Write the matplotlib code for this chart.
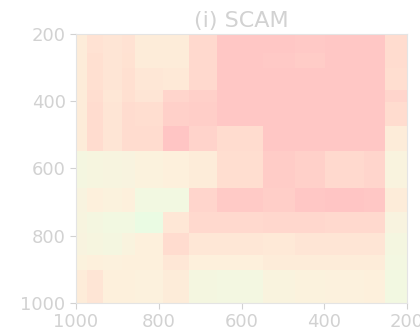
import numpy as np
import matplotlib
matplotlib.use("Agg")
import matplotlib.pyplot as plt
from matplotlib.colors import LinearSegmentedColormap

# cell boundaries of the score grid
x_edges = [1000, 973, 935, 890, 857, 789, 728, 660, 547, 470, 398, 305, 253, 200]
y_edges = [200, 257, 302, 367, 401, 474, 547, 659, 729, 793, 858, 902, 1000]

# score per cell, rows follow y_edges, columns follow x_edges
scores = np.array([
    [0.55, 0.65, 0.62, 0.65, 0.55, 0.55, 0.75, 0.95, 0.95, 0.93, 0.95, 0.95, 0.72],
    [0.55, 0.68, 0.62, 0.66, 0.55, 0.55, 0.75, 0.95, 0.93, 0.90, 0.95, 0.95, 0.72],
    [0.55, 0.68, 0.62, 0.68, 0.60, 0.58, 0.75, 0.95, 0.95, 0.95, 0.95, 0.95, 0.70],
    [0.55, 0.70, 0.60, 0.68, 0.62, 0.80, 0.85, 0.95, 0.95, 0.95, 0.95, 0.95, 0.80],
    [0.55, 0.72, 0.62, 0.72, 0.70, 0.85, 0.88, 0.95, 0.95, 0.95, 0.95, 0.95, 0.72],
    [0.55, 0.72, 0.62, 0.72, 0.72, 0.97, 0.82, 0.72, 0.95, 0.95, 0.95, 0.95, 0.55],
    [0.33, 0.36, 0.38, 0.40, 0.45, 0.50, 0.55, 0.70, 0.90, 0.85, 0.75, 0.80, 0.42],
    [0.40, 0.50, 0.45, 0.50, 0.28, 0.28, 0.80, 0.92, 0.88, 0.95, 0.97, 0.95, 0.55],
    [0.38, 0.33, 0.28, 0.28, 0.15, 0.60, 0.75, 0.75, 0.78, 0.78, 0.75, 0.75, 0.40],
    [0.40, 0.36, 0.33, 0.42, 0.50, 0.72, 0.60, 0.60, 0.58, 0.62, 0.62, 0.62, 0.33],
    [0.45, 0.50, 0.48, 0.50, 0.50, 0.60, 0.50, 0.50, 0.55, 0.55, 0.55, 0.55, 0.30],
    [0.55, 0.62, 0.50, 0.50, 0.48, 0.55, 0.33, 0.30, 0.42, 0.45, 0.48, 0.50, 0.28],
])

ticks = [200, 400, 600, 800, 1000]

pale = LinearSegmentedColormap.from_list("pale", [
    (0.00, (225/255, 255/255, 228/255)),
    (0.30, (243/255, 247/255, 225/255)),
    (0.50, (253/255, 240/255, 220/255)),
    (0.70, (255/255, 222/255, 208/255)),
    (1.00, (255/255, 195/255, 195/255)),
])

fg = "#d2d2d2"
fig = plt.figure(figsize=(4.2, 3.31), dpi=100)
ax = fig.add_axes([0.181, 0.085, 0.788, 0.812])
ax.pcolormesh(x_edges, y_edges, scores, cmap=pale, vmin=0, vmax=1)
ax.set_xlim(1000, 200)
ax.set_ylim(1000, 200)
ax.set_xticks(ticks)
ax.set_yticks(ticks)
ax.tick_params(colors=fg, labelcolor=fg, labelsize=13, length=4)
for s in ax.spines.values():
    s.set_color("#e4e4e4")
ax.set_title("(i) SCAM", color=fg, fontsize=16, pad=5)

fig.savefig("out.png", dpi=100)
